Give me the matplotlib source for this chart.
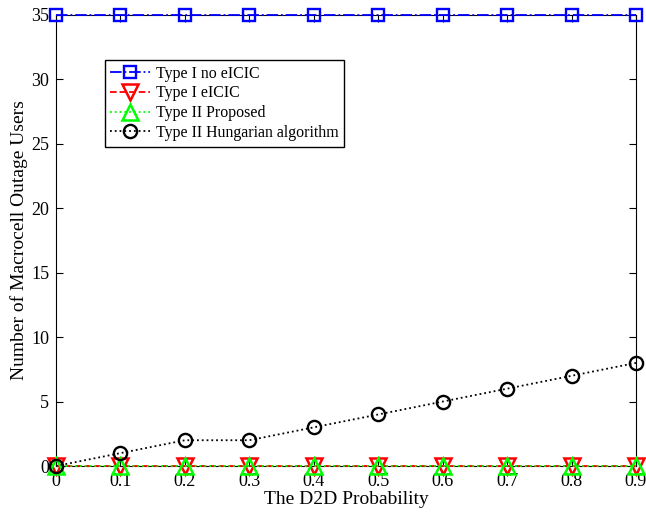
import matplotlib
matplotlib.use("Agg")
import matplotlib.pyplot as plt

x = [0, 0.1, 0.2, 0.3, 0.4, 0.5, 0.6, 0.7, 0.8, 0.9]
type1_no_eicic = [35, 35, 35, 35, 35, 35, 35, 35, 35, 35]
type1_eicic = [0, 0, 0, 0, 0, 0, 0, 0, 0, 0]
type2_proposed = [0, 0, 0, 0, 0, 0, 0, 0, 0, 0]
type2_hungarian = [0, 1, 2, 2, 3, 4, 5, 6, 7, 8]
xticks = [0, 0.1, 0.2, 0.3, 0.4, 0.5, 0.6, 0.7, 0.8, 0.9]
xticklabels = ["0", "0.1", "0.2", "0.3", "0.4", "0.5", "0.6", "0.7", "0.8", "0.9"]
yticks = [0, 5, 10, 15, 20, 25, 30, 35]

plt.rcParams['font.family'] = ['Liberation Serif', 'DejaVu Serif']
plt.rcParams['font.size'] = 13

fig = plt.figure(figsize=(6.46, 5.13), dpi=100)
ax = fig.add_axes([0.0867, 0.0916, 0.8978, 0.8792])

ax.plot(x, type1_no_eicic, color='#0000ff', linestyle='-.', linewidth=1.3,
        marker='s', markersize=8.5, markerfacecolor='none', markeredgewidth=1.7,
        label='Type I no eICIC', clip_on=False, zorder=3)
ax.plot(x, type1_eicic, color='#ff0000', linestyle='--', linewidth=1.3,
        marker='v', markersize=11, markerfacecolor='none', markeredgewidth=1.8,
        label='Type I eICIC', clip_on=False, zorder=3)
ax.plot(x, type2_proposed, color='#00ff00', linestyle=':', linewidth=1.3,
        marker='^', markersize=11.5, markerfacecolor='none', markeredgewidth=1.8,
        label='Type II Proposed', clip_on=False, zorder=4)
ax.plot(x, type2_hungarian, color='black', linestyle=':', linewidth=1.3,
        marker='o', markersize=9.5, markerfacecolor='none', markeredgewidth=1.7,
        label='Type II Hungarian algorithm', clip_on=False, zorder=5)

ax.set_xlim(0, 0.9)
ax.set_ylim(0, 35)
ax.set_xticks(xticks)
ax.set_xticklabels(xticklabels)
ax.set_yticks(yticks)
ax.tick_params(direction='in', top=True, right=True, length=5, pad=5, labelsize=13)
ax.set_xlabel('The D2D Probability', labelpad=1, fontsize=14)
ax.set_ylabel('Number of Macrocell Outage Users', labelpad=2, fontsize=14)

leg = ax.legend(loc='upper left', bbox_to_anchor=(0.084, 0.9), frameon=True,
                fancybox=False, edgecolor='black', framealpha=1, fontsize=11.4,
                handlelength=2.5, handletextpad=0.4, borderpad=0.35,
                labelspacing=0.24, borderaxespad=0)
leg.get_frame().set_linewidth(1.0)

fig.savefig('out.png', dpi=100)
